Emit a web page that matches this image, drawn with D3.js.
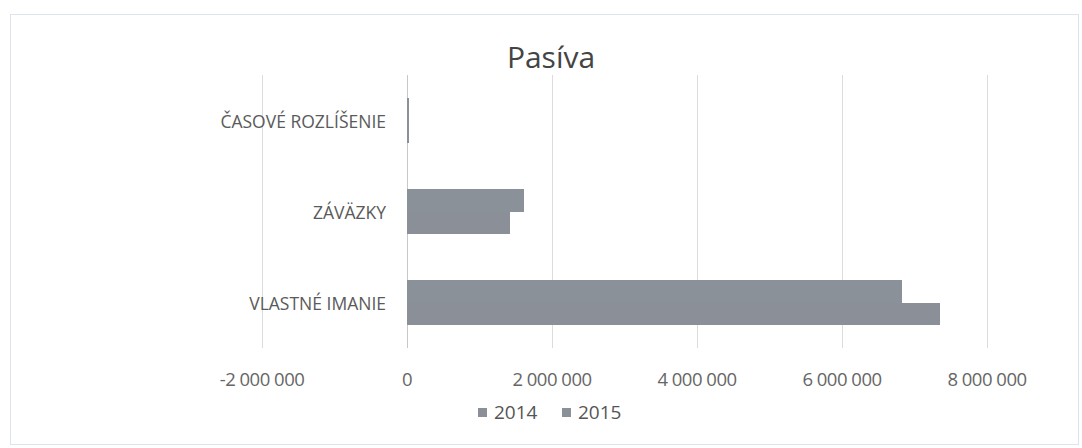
<!DOCTYPE html>
<html>
<head>
<meta charset="utf-8">
<script src="https://cdn.jsdelivr.net/npm/d3@7"></script>
<style>
  body { margin: 0; background: #fff; }
  svg { display: block; }
  text { font-family: "Open Sans", "Liberation Sans", sans-serif; }
</style>
</head>
<body>
<svg id="chart" width="1082" height="448"></svg>
<script>
const categories = ["VLASTNÉ IMANIE", "ZÁVÄZKY", "ČASOVÉ ROZLÍŠENIE"];
const seriesNames = ["2014", "2015"];
const values2014 = [7350000, 1420000, 30000];
const values2015 = [6830000, 1610000, 25000];
const tickValues = [-2000000, 0, 2000000, 4000000, 6000000, 8000000];
const tickLabels = ["-2 000 000", "0", "2 000 000", "4 000 000", "6 000 000", "8 000 000"];
const seriesColors = ["#8b9098", "#8b9199"];

const svg = d3.select("#chart");
const W = 1082, H = 448;

// chart border
svg.append("rect").attr("x", 10.5).attr("y", 14.5).attr("width", W - 14).attr("height", 430)
  .attr("fill", "none").attr("stroke", "#dde4ee").attr("stroke-width", 1);

const x = d3.scaleLinear().domain([-2000000, 8000000]).range([262, 987]);
// categories from bottom to top
const y = d3.scaleBand().domain(categories).range([348, 75]).paddingInner(0).paddingOuter(0);
const inner = d3.scaleBand().domain(["2015", "2014"]).range([0, y.bandwidth()]).paddingInner(0).paddingOuter(1);

// gridlines
svg.append("g").selectAll("line").data(tickValues).join("line")
  .attr("x1", d => x(d) + 0.5).attr("x2", d => x(d) + 0.5)
  .attr("y1", 75).attr("y2", 348)
  .attr("stroke", d => d === 0 ? "#c8c8c8" : "#dcdcdc")
  .attr("stroke-width", 1);

// bars
const seriesData = [values2014, values2015];
seriesNames.forEach((s, si) => {
  svg.append("g").selectAll("rect").data(categories).join("rect")
    .attr("x", (c, i) => Math.min(x(0), x(seriesData[si][i])))
    .attr("width", (c, i) => Math.abs(x(seriesData[si][i]) - x(0)))
    .attr("y", c => Math.round(y(c) + inner(s)))
    .attr("height", c => Math.round(y(c) + inner(s) + inner.bandwidth()) - Math.round(y(c) + inner(s)))
    .attr("fill", seriesColors[si])
    .attr("shape-rendering", "crispEdges");
});

// category labels
svg.append("g").selectAll("text").data(categories).join("text")
  .attr("x", 386).attr("y", c => y(c) + y.bandwidth() / 2)
  .attr("text-anchor", "end").attr("dominant-baseline", "central")
  .attr("font-size", 17.5).attr("fill", "#5a5a5a")
  .text(c => c);

// x tick labels
svg.append("g").selectAll("text").data(tickValues).join("text")
  .attr("x", d => x(d)).attr("y", 378)
  .attr("text-anchor", "middle").attr("dominant-baseline", "central")
  .attr("font-size", 18.5).attr("fill", "#666").attr("letter-spacing", "-0.5")
  .text((d, i) => tickLabels[i]);

// title
svg.append("text").attr("x", 551).attr("y", 68).attr("text-anchor", "middle")
  .attr("font-size", 30).attr("fill", "#444").text("Pasíva");

// legend
const legendX = [478, 562];
seriesNames.forEach((s, i) => {
  svg.append("rect").attr("x", legendX[i]).attr("y", 408).attr("width", 9).attr("height", 9)
    .attr("fill", seriesColors[i]);
  svg.append("text").attr("x", legendX[i] + 16).attr("y", 412)
    .attr("dominant-baseline", "central").attr("font-size", 19).attr("fill", "#555")
    .text(s);
});
</script>
</body>
</html>
